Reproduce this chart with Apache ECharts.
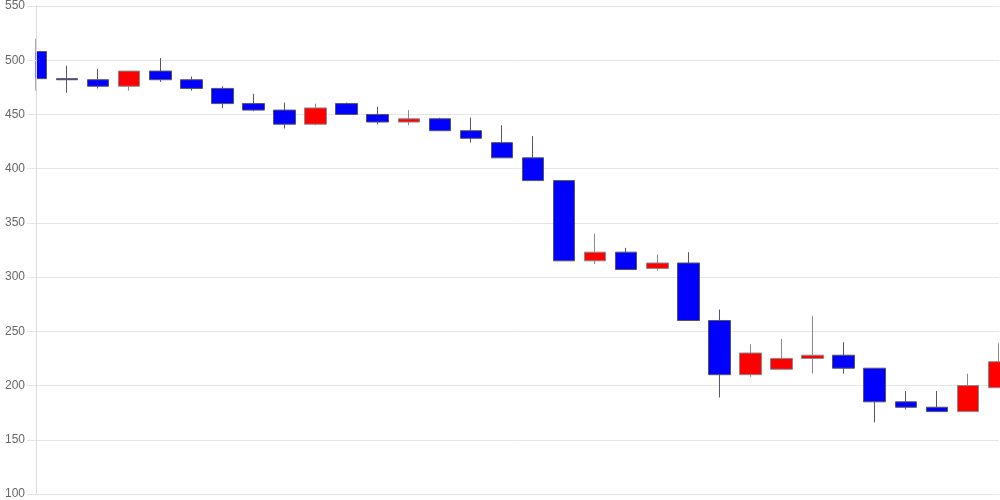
<!DOCTYPE html>
<html>
<head>
<meta charset="utf-8">
<script src="https://cdn.jsdelivr.net/npm/echarts@6/dist/echarts.min.js"></script>
<style>html,body{margin:0;padding:0;background:#fff}#c{width:1000px;height:500px}</style>
</head>
<body>
<div id="c"></div>
<script>
var categories = ['1','2','3','4','5','6','7','8','9','10','11','12','13','14','15','16','17','18','19','20','21','22','23','24','25','26','27','28','29','30','31','32'];
var opens  = [508,483,482,476,490,482,474,460,454,441,460,450,443,446,435,424,410,389,315,323,308,313,260,210,215,225,228,216,185,180,176,198];
var closes = [483,482,476,490,482,474,460,454,441,456,450,443,446,435,428,410,389,315,323,307,313,260,210,230,225,228,216,185,180,176,200,222];
var lows   = [472,470,474,472,480,472,456,453,437,440,450,441,440,435,424,410,389,315,312,307,306,260,189,208,215,211,211,166,178,176,176,198];
var highs  = [520,495,492,490,502,485,476,469,461,460,461,457,454,447,447,440,430,389,340,327,321,323,270,238,243,264,240,216,195,195,211,239];
var yTicks = [100,150,200,250,300,350,400,450,500,550];

var data = categories.map(function(c,i){ return [opens[i], closes[i], lows[i], highs[i]]; });

var yMin = yTicks[0], yMax = yTicks[yTicks.length-1];
var chart = echarts.init(document.getElementById('c'));
chart.setOption({
  animation: false,
  backgroundColor: '#fff',
  grid: { left: 36, right: 1, top: 6, bottom: 6, containLabel: false },
  graphic: [{
    type: 'rect', z: 5, silent: true,
    shape: { x: 0, y: 0, width: 35.5, height: 500 },
    style: { fill: '#fff' }
  }],
  xAxis: {
    type: 'category',
    data: categories,
    boundaryGap: false,
    axisLine: { show: false },
    axisTick: { show: false },
    axisLabel: { show: false },
    splitLine: { show: false }
  },
  yAxis: [{
    type: 'value',
    min: yMin, max: yMax, interval: 50,
    z: 0,
    axisLine: { show: false },
    axisTick: { show: false },
    axisLabel: { show: false },
    splitLine: { show: true, lineStyle: { color: '#e6e6e6' } }
  }, {
    type: 'value',
    position: 'left',
    min: yMin, max: yMax, interval: 50,
    z: 10,
    axisLine: { show: true, lineStyle: { color: '#dcdcdc' } },
    axisTick: { show: true, length: 9, lineStyle: { color: '#e6e6e6' } },
    axisLabel: { color: '#666', fontSize: 12, margin: 11, fontFamily: 'Liberation Sans, Arial, sans-serif' },
    splitLine: { show: false }
  }],
  series: [{
    type: 'candlestick',
    data: data,
    yAxisIndex: 0,
    barWidth: 22,
    itemStyle: {
      color: '#ff0000',
      color0: '#0000ff',
      borderColor: '#8a8a8a',
      borderColor0: '#555566',
      borderWidth: 1
    }
  }]
});
</script>
</body>
</html>
